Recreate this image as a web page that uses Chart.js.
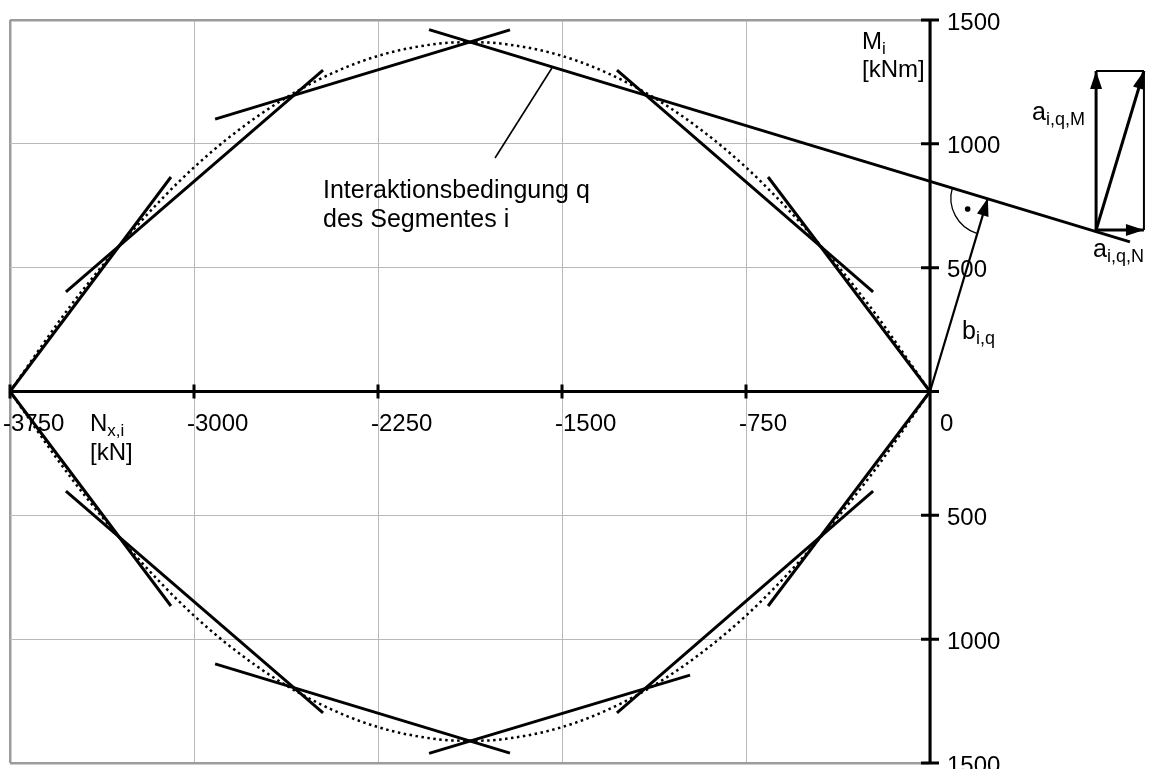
<!DOCTYPE html>
<html>
<head>
<meta charset="utf-8">
<script src="https://cdn.jsdelivr.net/npm/chart.js@4.4.1/dist/chart.umd.min.js"></script>
<style>
  html, body { margin: 0; padding: 0; background: #fff; }
</style>
</head>
<body>
<canvas id="chart" width="1150" height="769"></canvas>
<script>
// axis ticks
const xTicks = [-3750, -3000, -2250, -1500, -750, 0];
const xTickLabels = ['-3750', '-3000', '-2250', '-1500', '-750', '0'];
const yTicks = [1500, 1000, 500, 0, -500, -1000, -1500];
const yTickLabels = ['1500', '1000', '500', '', '500', '1000', '1500'];

// dotted interaction curve (N in kN, M in kNm)
const curveN = [-3750, -3500, -3250, -3000, -2750, -2500, -2250, -2000, -1875, -1750, -1500, -1250, -1000, -750, -500, -250, 0];
const curveUpperM = [0, 350, 650, 905, 1105, 1255, 1355, 1405, 1410, 1405, 1355, 1255, 1105, 905, 650, 350, 0];
const curveLowerM = [0, -350, -650, -905, -1105, -1255, -1355, -1405, -1410, -1405, -1355, -1255, -1105, -905, -650, -350, 0];

// linearised segments [N, M] start / end
const upperSegments = [
  [[0, 0], [-660, 866]],
  [[-232, 402], [-1276, 1298]],
  [[815, 604], [-2042, 1461]],
  [[-1712, 1460], [-2914, 1100]],
  [[-2474, 1298], [-3522, 402]],
  [[-3094, 866], [-3750, 0]]
];
const lowerSegments = [
  [[0, 0], [-660, -866]],
  [[-232, -402], [-1276, -1298]],
  [[-978, -1145], [-2042, -1461]],
  [[-1712, -1460], [-2914, -1100]],
  [[-2474, -1298], [-3522, -402]],
  [[-3094, -866], [-3750, 0]]
];

// vectors
const vecB = [[0, 0], [236, 781]];
const vecAM = [[677, 652], [677, 1294]];
const vecAN = [[677, 652], [872, 652]];
const vecA = [[677, 652], [872, 1294]];
const boxTop = [[677, 1294], [872, 1294]];
const boxRight = [[872, 1294], [872, 652]];
const leader = [[-1773, 943], [-1541, 1306]];

const pts = arr => arr.map(p => ({ x: p[0], y: p[1] }));
const line = (data, opts) => Object.assign({
  data: pts(data), showLine: true, pointRadius: 0, borderColor: '#000',
  borderWidth: 3, fill: false, clip: false, tension: 0
}, opts || {});

const datasets = [];
datasets.push(line(curveN.map((n, i) => [n, curveUpperM[i]]), { borderWidth: 2.5, borderDash: [2.5, 3.5], cubicInterpolationMode: 'monotone' }));
datasets.push(line(curveN.map((n, i) => [n, curveLowerM[i]]), { borderWidth: 2.5, borderDash: [2.5, 3.5], cubicInterpolationMode: 'monotone' }));
upperSegments.concat(lowerSegments).forEach(s => datasets.push(line(s)));
datasets.push(line(leader, { borderWidth: 1.6 }));
datasets.push(line(boxTop, { borderWidth: 2 }));
datasets.push(line(boxRight, { borderWidth: 2 }));
datasets.push(line(vecB, { borderWidth: 2.2, arrow: true }));
datasets.push(line(vecAM, { borderWidth: 3, arrow: true }));
datasets.push(line(vecAN, { borderWidth: 3, arrow: true }));
datasets.push(line(vecA, { borderWidth: 3, arrow: true }));

const FONT = '"Liberation Sans", Arial, sans-serif';

function subText(ctx, x, y, main, sub, size) {
  ctx.font = size + 'px ' + FONT;
  ctx.textAlign = 'left';
  ctx.textBaseline = 'alphabetic';
  ctx.fillText(main, x, y);
  const w = ctx.measureText(main).width;
  if (sub) {
    ctx.font = Math.round(size * 0.7) + 'px ' + FONT;
    ctx.fillText(sub, x + w, y + 5);
  }
}

const overlay = {
  id: 'overlay',
  beforeDatasetsDraw(chart) {
    const ctx = chart.ctx, xs = chart.scales.x, ys = chart.scales.y;
    const x0 = xs.getPixelForValue(0), y0 = ys.getPixelForValue(0);
    ctx.save();
    ctx.strokeStyle = '#000';
    ctx.lineWidth = 3;
    ctx.beginPath();
    ctx.moveTo(xs.getPixelForValue(-3750), y0);
    ctx.lineTo(x0, y0);
    ctx.moveTo(x0, ys.getPixelForValue(1500));
    ctx.lineTo(x0, ys.getPixelForValue(-1500));
    xTicks.forEach(v => {
      const px = xs.getPixelForValue(v);
      ctx.moveTo(px, y0 - 7);
      ctx.lineTo(px, y0 + 7);
    });
    yTicks.forEach(v => {
      const py = ys.getPixelForValue(v);
      ctx.moveTo(x0 - 9, py);
      ctx.lineTo(x0 + 9, py);
    });
    ctx.stroke();
    ctx.restore();
  },
  afterDatasetsDraw(chart) {
    const ctx = chart.ctx, xs = chart.scales.x, ys = chart.scales.y;
    const x0 = xs.getPixelForValue(0), y0 = ys.getPixelForValue(0);
    ctx.save();
    ctx.fillStyle = '#000';
    ctx.strokeStyle = '#000';

    // arrow heads
    chart.data.datasets.forEach((ds, i) => {
      if (!ds.arrow) return;
      const el = chart.getDatasetMeta(i).data;
      const a = el[el.length - 2], b = el[el.length - 1];
      const ang = Math.atan2(b.y - a.y, b.x - a.x);
      const L = 18, W = 6;
      ctx.beginPath();
      ctx.moveTo(b.x, b.y);
      ctx.lineTo(b.x - L * Math.cos(ang) + W * Math.sin(ang), b.y - L * Math.sin(ang) - W * Math.cos(ang));
      ctx.lineTo(b.x - L * Math.cos(ang) - W * Math.sin(ang), b.y - L * Math.sin(ang) + W * Math.cos(ang));
      ctx.closePath();
      ctx.fill();
    });

    // right angle marker at the foot of b
    const fx = xs.getPixelForValue(vecB[1][0]), fy = ys.getPixelForValue(vecB[1][1]);
    const a1 = Math.atan2(y0 - fy, x0 - fx);
    const sx = xs.getPixelForValue(upperSegments[2][1][0]), sy = ys.getPixelForValue(upperSegments[2][1][1]);
    let a2 = Math.atan2(sy - fy, sx - fx);
    if (a2 < a1) a2 += Math.PI * 2;
    ctx.lineWidth = 1.3;
    ctx.beginPath();
    ctx.arc(fx, fy, 37, a1, a2);
    ctx.stroke();
    const am = (a1 + a2) / 2;
    ctx.beginPath();
    ctx.arc(fx + 23 * Math.cos(am), fy + 23 * Math.sin(am), 2.8, 0, Math.PI * 2);
    ctx.fill();

    // tick labels
    ctx.font = '24px ' + FONT;
    ctx.textBaseline = 'alphabetic';
    ctx.textAlign = 'left';
    xTicks.forEach((v, i) => {
      const px = xs.getPixelForValue(v);
      ctx.fillText(xTickLabels[i], v === 0 ? px + 10 : px - 7, y0 + 39);
    });
    ctx.textBaseline = 'middle';
    yTicks.forEach((v, i) => {
      ctx.fillText(yTickLabels[i], x0 + 17, ys.getPixelForValue(v) + 3);
    });

    // axis titles and annotations
    subText(ctx, 862, 49, 'M', 'i', 24);
    subText(ctx, 862, 77, '[kNm]', '', 24);
    subText(ctx, 90, 431, 'N', 'x,i', 24);
    subText(ctx, 90, 460, '[kN]', '', 24);
    subText(ctx, 323, 198, 'Interaktionsbedingung q', '', 25);
    subText(ctx, 323, 227, 'des Segmentes i', '', 25);
    subText(ctx, 962, 339, 'b', 'i,q', 25);
    subText(ctx, 1032, 120, 'a', 'i,q,M', 25);
    subText(ctx, 1093, 257, 'a', 'i,q,N', 25);
    ctx.restore();
  }
};

const gridColor = c => (c.index === 0 || c.index === c.scale.ticks.length - 1) ? '#9c9c9c' : '#b9b9b9';
const gridWidth = c => (c.index === 0 || c.index === c.scale.ticks.length - 1) ? 2.5 : 1;

new Chart(document.getElementById('chart').getContext('2d'), {
  type: 'scatter',
  data: { datasets: datasets },
  options: {
    responsive: false,
    animation: false,
    layout: { padding: { left: 10, right: 220, top: 20, bottom: 6 } },
    plugins: { legend: { display: false }, tooltip: { enabled: false } },
    scales: {
      x: {
        type: 'linear', min: -3750, max: 0,
        ticks: { stepSize: 750, display: false },
        grid: { drawTicks: false, color: gridColor, lineWidth: gridWidth },
        border: { display: false }
      },
      y: {
        type: 'linear', min: -1500, max: 1500,
        ticks: { stepSize: 500, display: false },
        grid: { drawTicks: false, color: gridColor, lineWidth: gridWidth },
        border: { display: false }
      }
    }
  },
  plugins: [overlay]
});
</script>
</body>
</html>
